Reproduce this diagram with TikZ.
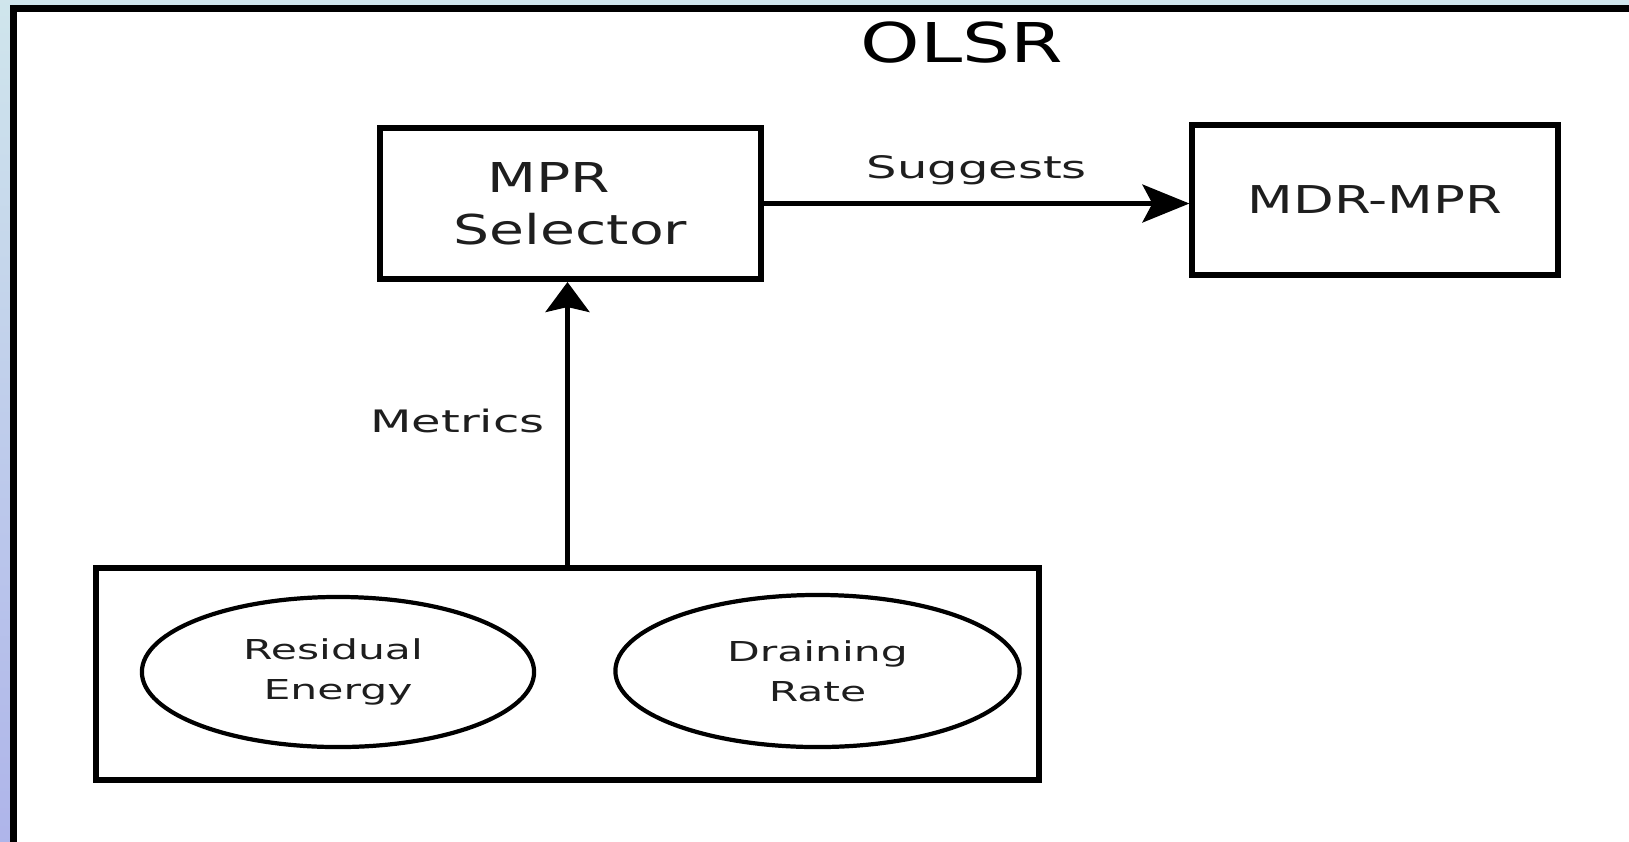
\documentclass[tikz,border=0pt]{standalone}
\usepackage{fontspec}
\setmainfont{DejaVu Sans}
\newfontfamily\boxfont[FakeStretch=1.38]{DejaVu Sans}
\newfontfamily\labelfont[FakeStretch=1.55]{DejaVu Sans}
\usepackage{tikz}
\usetikzlibrary{shapes,arrows.meta,calc,positioning}
\definecolor{framecyan}{HTML}{D0E6EC}
\definecolor{framelav}{HTML}{AEB4EA}
\definecolor{inkgray}{HTML}{1E1E1E}

\begin{document}
\begin{tikzpicture}[x=0.01cm, y=-0.01cm,
block/.style={draw, line width=1.7pt, rectangle, align=center, text=inkgray, font=\boxfont\fontsize{11.7}{14.8}\selectfont},
metric/.style={draw, line width=1.2pt, ellipse, align=center, inner sep=0pt, text=inkgray, font=\labelfont\fontsize{7.8}{11.4}\selectfont},
flow/.style={line width=1.15pt, -{Stealth[length=0.47cm, width=0.38cm, inset=0.1cm]}},
rise/.style={line width=1.15pt, -{Stealth[length=0.30cm, width=0.44cm, inset=0.05cm]}},
tag/.style={inner sep=0pt, text=inkgray, font=\labelfont\fontsize{8.8}{10}\selectfont}]

    \useasboundingbox (0,0) rectangle (1629,841);

    % slide frame
    \shade[top color=framecyan, bottom color=framelav] (-10,-10) rectangle (1640,851);
    \fill[white] (13.5,8.5) rectangle (1640,851);
    \draw[line width=1.9pt] (13.5,851) -- (13.5,8.5) -- (1640,8.5);

    \node[font=\boxfont\fontsize{15.6}{18}\selectfont] (olsr) at (962,43) {OLSR};

    \node[block, minimum width=3.81cm, minimum height=1.51cm] (selector) at (570.5,203.5) {MPR\hspace*{0.44cm}\\Selector};
    \node[block, minimum width=3.65cm, minimum height=1.49cm, font=\boxfont\fontsize{10.9}{13}\selectfont] (mdrmpr) at (1375,200) {MDR-MPR};

    \node[draw, line width=1.7pt, minimum width=9.43cm, minimum height=2.12cm] (metricbox) at (567.5,674) {};
    \node[metric, minimum width=3.92cm, minimum height=1.50cm] (residual) at (338,672) {Residual\hspace*{0.1cm}\\Energy};
    \node[metric, minimum width=4.04cm, minimum height=1.52cm] (draining) at (817.5,671) {Draining\\Rate};

    \draw[flow] (selector.east) -- node[tag, above=0.17cm] {Suggests} (selector.east -| mdrmpr.west);
    \draw[rise] (metricbox.north) -- node[tag, left=0.21cm, pos=0.51] {Metrics} (metricbox.north |- selector.south);
    %
\end{tikzpicture}
\end{document}
